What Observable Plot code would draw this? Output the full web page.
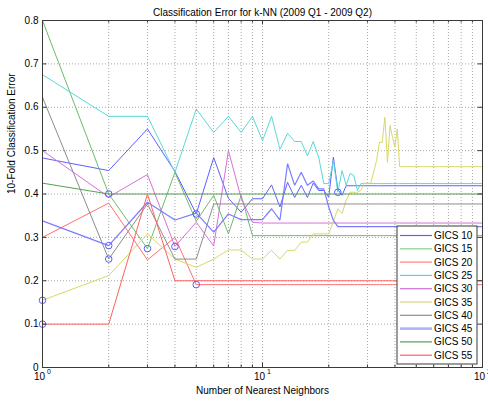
<!DOCTYPE html>
<html>
<head>
<meta charset="utf-8">
<script src="https://cdn.jsdelivr.net/npm/d3@7"></script>
<script src="https://cdn.jsdelivr.net/npm/@observablehq/plot@0.6"></script>
<style>
  body { margin: 0; background: #fff; }
  svg { display: block; }
</style>
</head>
<body>
<div id="chart"></div>
<script>
// ---- data ----
const kValues = [1,2,3,4,5,6,7,8,9,10,11,12,13,14,15,16,17,18,19,20,21,22,23,24,25,26,27,28,29,30,31,32,33,34,35,36,37,38,39,40,41,42,100];

const gics10 = [0.483,0.454,0.550,0.452,0.354,0.484,0.390,0.358,0.389,0.389,
  0.421,0.370,0.427,0.392,0.420,0.392,0.425,0.408,0.408,0.393,
  0.485,0.410,0.397,0.419,0.419,0.419,0.419,0.419,0.419,0.419,
  0.419,0.419,0.419,0.419,0.419,0.419,0.419,0.419,0.419,0.419,
  0.419,0.419,0.419];
const gics15 = [0.800,0.400,0.274,0.450,0.337,0.397,0.308,0.397,0.304,0.304,
  0.304,0.304,0.304,0.304,0.304,0.304,0.304,0.304,0.304,0.304,
  0.304,0.304,0.304,0.304,0.304,0.304,0.304,0.304,0.304,0.304,
  0.304,0.304,0.304,0.304,0.304,0.304,0.304,0.304,0.304,0.304,
  0.304,0.304,0.304];
const gics20 = [0.300,0.379,0.248,0.300,0.191,0.191,0.191,0.191,0.191,0.191,
  0.191,0.191,0.191,0.191,0.191,0.191,0.191,0.191,0.191,0.191,
  0.191,0.191,0.191,0.191,0.191,0.191,0.191,0.191,0.191,0.191,
  0.191,0.191,0.191,0.191,0.191,0.191,0.191,0.191,0.191,0.191,
  0.191,0.191,0.191];
const gics25 = [0.675,0.579,0.579,0.450,0.596,0.542,0.579,0.542,0.579,0.523,
  0.579,0.503,0.540,0.521,0.521,0.488,0.521,0.485,0.424,0.424,
  0.477,0.404,0.454,0.420,0.447,0.443,0.408,0.424,0.424,0.424,
  0.424,0.424,0.424,0.424,0.424,0.424,0.424,0.424,0.424,0.424,
  0.424,0.424,0.424];
const gics30 = [0.500,0.393,0.445,0.279,0.335,0.280,0.500,0.390,0.335,0.333,
  0.333,0.333,0.333,0.333,0.333,0.333,0.333,0.333,0.333,0.333,
  0.333,0.333,0.333,0.333,0.333,0.333,0.333,0.333,0.333,0.333,
  0.333,0.333,0.333,0.333,0.333,0.333,0.333,0.333,0.333,0.333,
  0.333,0.333,0.333];
const gics35 = [0.155,0.212,0.308,0.250,0.231,0.250,0.271,0.271,0.250,0.250,
  0.270,0.250,0.270,0.270,0.289,0.289,0.308,0.308,0.308,0.308,
  0.337,0.366,0.355,0.385,0.404,0.404,0.404,0.408,0.425,0.425,
  0.425,0.450,0.477,0.519,0.519,0.577,0.473,0.558,0.530,0.508,
  0.550,0.463,0.463];
const gics40 = [0.623,0.250,0.377,0.250,0.250,0.377,0.377,0.377,0.377,0.377,
  0.377,0.377,0.377,0.377,0.377,0.377,0.377,0.377,0.377,0.377,
  0.377,0.377,0.377,0.377,0.377,0.377,0.377,0.377,0.377,0.377,
  0.377,0.377,0.377,0.377,0.377,0.377,0.377,0.377,0.377,0.377,
  0.377,0.377,0.377];
const gics45 = [0.338,0.281,0.381,0.340,0.356,0.312,0.354,0.341,0.341,0.341,
  0.366,0.340,0.470,0.420,0.450,0.420,0.430,0.412,0.412,0.370,
  0.339,0.325,0.325,0.325,0.325,0.325,0.325,0.325,0.325,0.325,
  0.325,0.325,0.325,0.325,0.325,0.325,0.325,0.325,0.325,0.325,
  0.325,0.325,0.325];
const gics50 = [0.425,0.400,0.400,0.400,0.400,0.400,0.400,0.400,0.400,0.400,
  0.400,0.400,0.400,0.400,0.400,0.400,0.400,0.400,0.400,0.400,
  0.400,0.400,0.400,0.400,0.400,0.400,0.400,0.400,0.400,0.400,
  0.400,0.400,0.400,0.400,0.400,0.400,0.400,0.400,0.400,0.400,
  0.400,0.400,0.400];
const gics55 = [0.100,0.100,0.400,0.200,0.200,0.200,0.200,0.200,0.200,0.200,
  0.200,0.200,0.200,0.200,0.200,0.200,0.200,0.200,0.200,0.200,
  0.200,0.200,0.200,0.200,0.200,0.200,0.200,0.200,0.200,0.200,
  0.200,0.200,0.200,0.200,0.200,0.200,0.200,0.200,0.200,0.200,
  0.200,0.200,0.200];

const seriesNames = ["GICS 10","GICS 15","GICS 20","GICS 25","GICS 30","GICS 35","GICS 40","GICS 45","GICS 50","GICS 55"];
const seriesValues = [gics10, gics15, gics20, gics25, gics30, gics35, gics40, gics45, gics50, gics55];

const xMajorTicks = [1, 10, 100];
const xMinorTicks = [2,3,4,5,6,7,8,9,20,30,40,50,60,70,80,90];
const yTicks = [0,0.1,0.2,0.3,0.4,0.5,0.6,0.7,0.8];
const yTickLabels = ["0","0.1","0.2","0.3","0.4","0.5","0.6","0.7","0.8"];

const titleText = "Classification Error for k-NN (2009 Q1 - 2009 Q2)";
const xLabel = "Number of Nearest Neighbors";
const yLabel = "10-Fold Classification Error";

// ---- styles ----
const seriesColors = ["#5f5fff","#6cbc6c","#ff7070","#5ad8d8","#d870d8","#d8d868","#8c8c8c","#7c7cff","#54a254","#ff6060"];
const seriesWidths = [1,1,1,1,1,1,1,1.2,1,1];
const legendColors = ["#5f5fff","#8ccc8c","#ff8080","#5ad8d8","#d070d8","#d8d880","#8c8c8c","#b0b0ff","#54a254","#ff6060"];
const legendWidths = [1.2,1.2,1.2,1.2,1.2,1.2,1.2,2.6,1.2,1.2];

// ---- build tables ----
const rows = seriesNames.flatMap((name, i) =>
  kValues.map((k, j) => ({name, k, v: seriesValues[i][j]})));
const minima = seriesNames.map((name, i) => {
  const j = d3.minIndex(seriesValues[i]);
  return {name, k: kValues[j], v: seriesValues[i][j]};
});

const W = 488, H = 401, mL = 42, mR = 6, mT = 20, mB = 34;
const innerW = W - mL - mR, innerH = H - mT - mB;
const gridX = xMinorTicks.concat([10]);
const gridY = yTicks.slice(1, -1);
const font = "'Liberation Sans', Arial, Helvetica, sans-serif";
const axisColor = "#3a3a3a";

const chart = Plot.plot({
  width: W, height: H,
  marginLeft: mL, marginRight: mR, marginTop: mT, marginBottom: mB,
  style: {fontFamily: font, fontSize: "10px", background: "#fff", color: "#000", overflow: "visible"},
  x: {type: "log", domain: [1, 100], axis: null},
  y: {domain: [0, 0.8], axis: null},
  marks: [
    Plot.ruleX(gridX, {x: d => d, stroke: "#a8a8a8", strokeDasharray: "1,2", strokeWidth: 1}),
    Plot.ruleY(gridY, {y: d => d, stroke: "#a8a8a8", strokeDasharray: "1,2", strokeWidth: 1}),
    ...seriesNames.map((name, i) =>
      Plot.line(rows.filter(r => r.name === name), {x: "k", y: "v", stroke: seriesColors[i], strokeWidth: seriesWidths[i], strokeLinejoin: "miter"})),
    Plot.dot(minima, {x: "k", y: "v", r: 3.3, stroke: "#5a5aff", fill: "none", strokeWidth: 1}),
    Plot.frame({stroke: axisColor, strokeWidth: 1}),
    // ticks (inside, MATLAB style)
    Plot.ruleX(xMajorTicks, {x: d => d, insetTop: innerH - 4.5, stroke: axisColor}),
    Plot.ruleX(xMajorTicks, {x: d => d, insetBottom: innerH - 4.5, stroke: axisColor}),
    Plot.ruleX(xMinorTicks, {x: d => d, insetTop: innerH - 2.5, stroke: axisColor}),
    Plot.ruleX(xMinorTicks, {x: d => d, insetBottom: innerH - 2.5, stroke: axisColor}),
    Plot.ruleY(yTicks, {y: d => d, insetRight: innerW - 4.5, stroke: axisColor}),
    Plot.ruleY(yTicks, {y: d => d, insetLeft: innerW - 4.5, stroke: axisColor}),
    // tick labels
    Plot.text(yTicks, {y: d => d, text: (d, i) => yTickLabels[i], frameAnchor: "left", textAnchor: "end", dx: -4, fontSize: 10}),
    Plot.text(xMajorTicks, {x: d => d, text: () => "10", frameAnchor: "bottom", textAnchor: "middle", dx: -3, dy: 12, fontSize: 10}),
    Plot.text(xMajorTicks, {x: d => d, text: d => String(Math.round(Math.log10(d))), frameAnchor: "bottom", textAnchor: "start", dx: 4.5, dy: 6, fontSize: 7}),
    // titles
    Plot.text([titleText], {text: d => d, frameAnchor: "top", dy: -12, fontSize: 10}),
    Plot.text([xLabel], {text: d => d, frameAnchor: "bottom", dy: 26, fontSize: 10}),
    Plot.text([yLabel], {text: d => d, frameAnchor: "left", rotate: -90, dx: -31, fontSize: 10})
  ]
});

// ---- legend drawn inside the same SVG ----
const svg = d3.select(chart);
const lg = svg.append("g").attr("font-family", font).attr("font-size", 10).attr("text-anchor", "start");
const lx = 397, ly = 226, lw = 80, lh = 138, rowH = 13.3, firstRow = 9.5;
lg.append("rect").attr("x", lx).attr("y", ly).attr("width", lw).attr("height", lh)
  .attr("fill", "#fff").attr("stroke", axisColor).attr("stroke-width", 1);
seriesNames.forEach((name, i) => {
  const cy = ly + firstRow + i * rowH;
  lg.append("line").attr("x1", lx + 3).attr("x2", lx + 35).attr("y1", cy).attr("y2", cy)
    .attr("stroke", legendColors[i]).attr("stroke-width", legendWidths[i]);
  lg.append("text").attr("x", lx + 37).attr("y", cy).attr("dy", "0.35em")
    .attr("text-anchor", "start").attr("fill", "#000").text(name);
});

document.getElementById("chart").appendChild(chart);
</script>
</body>
</html>
